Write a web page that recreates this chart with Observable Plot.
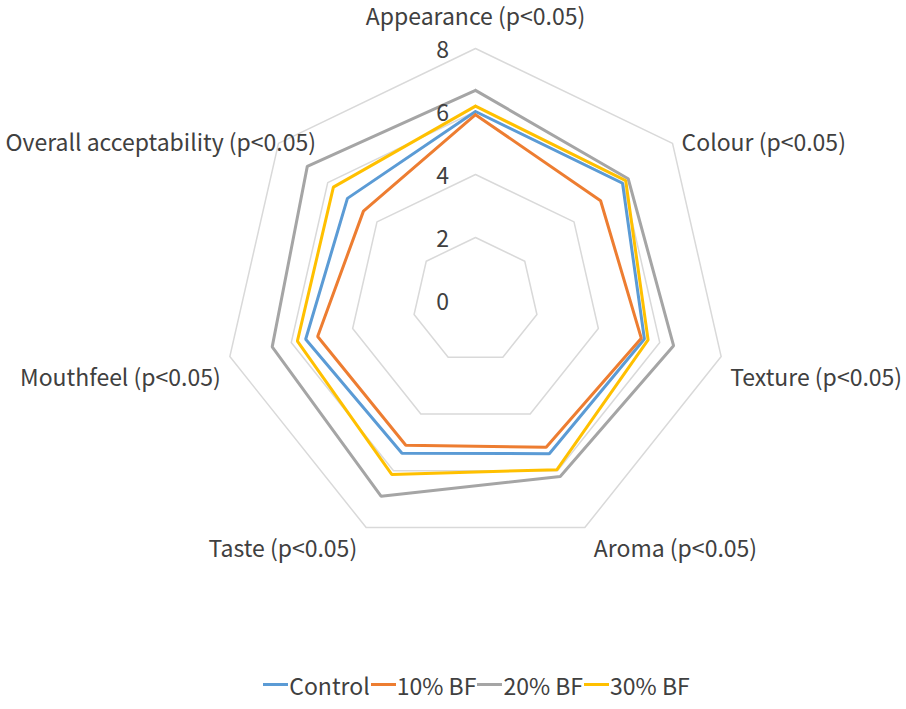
<!DOCTYPE html>
<html><head><meta charset="utf-8">
<script src="https://cdn.jsdelivr.net/npm/d3@7"></script>
<script src="https://cdn.jsdelivr.net/npm/@observablehq/plot@0.6"></script>
<style>
body{margin:0;background:#fff;font-family:"Noto Sans CJK KR",sans-serif;}
#legend{display:flex;justify-content:center;align-items:center;height:49px;font-size:23px;color:#404040;padding-left:46px;}
.sw{display:inline-block;width:25px;height:3px;margin:0 1px;}
</style></head><body>
<div id="chart"></div><div id="legend"></div>
<script>
const categories = ["Appearance (p<0.05)", "Colour (p<0.05)", "Texture (p<0.05)", "Aroma (p<0.05)", "Taste (p<0.05)", "Mouthfeel (p<0.05)", "Overall acceptability (p<0.05)"];
const seriesNames = ["Control", "10% BF", "20% BF", "30% BF"];
const control = [6.0, 5.97, 5.5, 5.4, 5.38, 5.53, 5.2];
const bf10 = [5.9, 5.08, 5.4, 5.17, 5.1, 5.14, 4.55];
const bf20 = [6.67, 6.2, 6.45, 6.2, 6.9, 6.62, 6.83];
const bf30 = [6.17, 6.1, 5.62, 5.96, 6.13, 5.8, 5.77];
const tickValues = [0, 2, 4, 6, 8];
const colors = ["#5B9BD5", "#ED7D31", "#A5A5A5", "#FFC000"];

const W = 906, H = 660, cx = 475, cy = 300, unit = 31.5, maxV = 8;
const FS = 23;
const FONT = FS + "px 'Noto Sans CJK KR'";
const n = categories.length;
const ang = k => 2 * Math.PI * k / n;
const pt = (k, v) => ({x: v * Math.sin(ang(k)), y: v * Math.cos(ang(k))});

const seriesVals = [control, bf10, bf20, bf30];
const seriesPts = seriesVals.flatMap((vals, s) =>
  d3.range(n + 1).map(i => ({...pt(i % n, vals[i % n]), s: seriesNames[s]})));
const rings = tickValues.filter(t => t > 0).flatMap(t =>
  d3.range(n + 1).map(i => ({...pt(i % n, t), r: t})));

const ctx = document.createElement("canvas").getContext("2d");
ctx.font = FONT;
const xScalePx = v => cx + v * unit;
const labels = categories.map((c, k) => {
  const s = Math.sin(ang(k)), co = Math.cos(ang(k));
  const p = pt(k, maxV);
  let anchor = co > 0.9 ? "middle" : (s > 0 ? "start" : "end");
  let dx = anchor === "middle" ? 0 : (s > 0 ? 9 : -9);
  let dy = co > 0.9 ? -30.5 : (co < -0.1 ? 22 : 0);
  const w = ctx.measureText(c).width;
  const left = anchor === "end" ? xScalePx(p.x) + dx - w : 0;
  return {...p, text: c, anchor, dx, dy, overflow: left < 0};
});

const textStyle = {fontSize: FS, fontFamily: "Noto Sans CJK KR", fill: "#404040"};
const marks = [
  Plot.line(rings, {x: "x", y: "y", z: "r", stroke: "#D9D9D9", strokeWidth: 1.5}),
  ...seriesNames.map((name, i) =>
    Plot.line(seriesPts.filter(d => d.s === name), {x: "x", y: "y", stroke: colors[i], strokeWidth: 3, strokeLinejoin: "miter"})),
  Plot.text(tickValues, {x: () => 0, y: d => d, text: d => String(d), dx: -33, dy: 2, textAnchor: "middle", ...textStyle}),
  ...labels.filter(l => !l.overflow).map(l =>
    Plot.text([l], {x: "x", y: "y", text: "text", textAnchor: l.anchor, dx: l.dx, dy: l.dy, ...textStyle})),
  ...labels.filter(l => l.overflow).map(l =>
    Plot.text([l], {y: "y", text: "text", frameAnchor: "left", textAnchor: "start", dx: 5, dy: l.dy, ...textStyle}))
];

const chart = Plot.plot({
  width: W, height: H,
  margin: 0,
  x: {domain: [(0 - cx) / unit, (W - cx) / unit], axis: null},
  y: {domain: [(cy - H) / unit, cy / unit], axis: null},
  style: {background: "#fff", overflow: "visible"},
  marks
});
document.getElementById("chart").appendChild(chart);

const legend = document.getElementById("legend");
seriesNames.forEach((name, i) => {
  const sw = document.createElement("span");
  sw.className = "sw"; sw.style.background = colors[i];
  const t = document.createElement("span");
  t.textContent = name;
  legend.appendChild(sw); legend.appendChild(t);
});
</script>
</body></html>
